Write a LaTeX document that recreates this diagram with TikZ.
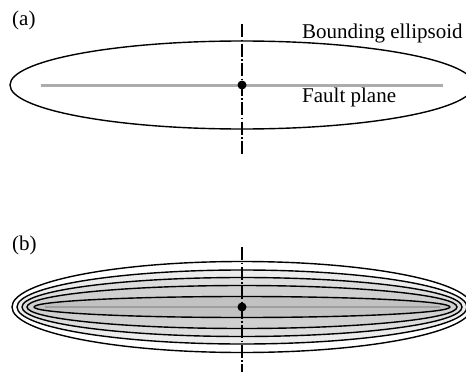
\documentclass[tikz,border=0pt]{standalone}
\usepackage{fontspec}
\setmainfont{Liberation Serif}
\begin{document}
\begin{tikzpicture}[x=1pt,y=-1pt]
\tikzset{
  outline/.style={line width=1.4pt},
  axisline/.style={line width=1.3pt, dash pattern=on 13pt off 2.5pt on 1.5pt off 2.5pt},
  faultline/.style={line width=3pt, draw=gray!65},
  caption/.style={anchor=base west, inner sep=0pt, font=\fontsize{21}{25}\selectfont},
  hypo/.style={circle, fill=black, inner sep=0pt, minimum size=9pt}
}
\useasboundingbox (0,0) rectangle (466,372);
\clip (0,0) rectangle (466,372);
% (a) bounding ellipsoid around the fault plane
\node[caption] (labela) at (12,25) {(a)};
\draw[outline] (242,85) ellipse [x radius=232, y radius=44];
\coordinate (fa) at (41,85);
\coordinate (fb) at (443,85);
\draw[faultline] (fa) -- (fb);
\coordinate (ta) at (242,24);
\coordinate (ba) at (242,155);
\draw[axisline] (ta) -- (ba);
\node[hypo] (ca) at (242,85) {};
\node[caption] (bound) at (302,38) {Bounding ellipsoid};
\node[caption] (fault) at (302,102) {Fault plane};
% (b) nested ellipsoids
\node[caption] (labelb) at (12,250) {(b)};
\foreach \a/\b/\tone in {230/45.5/white, 225/37/gray!15, 220/29.5/gray!27, 215/21.5/gray!37, 208/10.5/gray!48}
  \filldraw[outline, fill=\tone] (242,307) ellipse [x radius=\a, y radius=\b];
\coordinate (fc) at (45,307);
\coordinate (fd) at (440,307);
\draw[line width=2.5pt, gray!75] (fc) -- (fd);
\coordinate (tb) at (242,247);
\coordinate (bb) at (242,372);
\draw[axisline] (tb) -- (bb);
\node[hypo] (cb) at (242,307) {};
\end{tikzpicture}
\end{document}
